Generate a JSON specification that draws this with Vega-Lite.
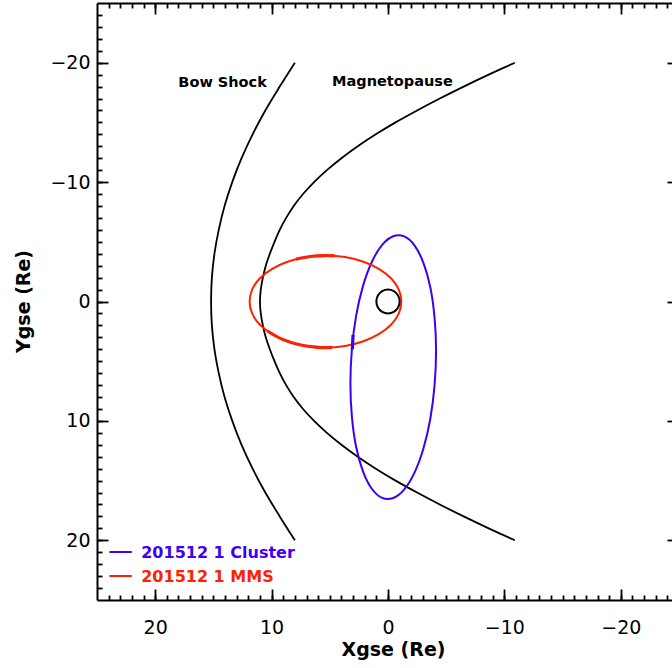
{
  "$schema": "https://vega.github.io/schema/vega-lite/v6.json",
  "width": 575,
  "height": 597,
  "autosize": {"type": "none"},
  "padding": {"left": 97, "top": 3, "right": 0, "bottom": 68},
  "background": "white",
  "config": {
    "view": {"stroke": null},
    "axis": {
      "grid": false,
      "domainColor": "black",
      "tickColor": "black",
      "labelColor": "black",
      "titleColor": "black",
      "domainWidth": 2,
      "tickWidth": 1.8,
      "labelFont": "DejaVu Sans",
      "labelFontSize": 19,
      "titleFont": "DejaVu Sans",
      "titleFontSize": 19,
      "titleFontWeight": "bold",
      "labelFlush": false,
      "labelOverlap": false
    }
  },
  "datasets": {
    "bow": [
      {"i": 0, "x": 8.0, "y": -20}, {"i": 1, "x": 9.3, "y": -18}, {"i": 2, "x": 10.54, "y": -16},
      {"i": 3, "x": 11.63, "y": -14}, {"i": 4, "x": 12.58, "y": -12}, {"i": 5, "x": 13.38, "y": -10},
      {"i": 6, "x": 14.04, "y": -8}, {"i": 7, "x": 14.54, "y": -6}, {"i": 8, "x": 14.91, "y": -4},
      {"i": 9, "x": 15.13, "y": -2}, {"i": 10, "x": 15.2, "y": 0}, {"i": 11, "x": 15.13, "y": 2},
      {"i": 12, "x": 14.91, "y": 4}, {"i": 13, "x": 14.54, "y": 6}, {"i": 14, "x": 14.04, "y": 8},
      {"i": 15, "x": 13.38, "y": 10}, {"i": 16, "x": 12.58, "y": 12}, {"i": 17, "x": 11.63, "y": 14},
      {"i": 18, "x": 10.54, "y": 16}, {"i": 19, "x": 9.3, "y": 18}, {"i": 20, "x": 8.0, "y": 20}
    ],
    "mp": [
      {"i": 0, "x": -10.9, "y": -20}, {"i": 1, "x": -8.65, "y": -19}, {"i": 2, "x": -6.5, "y": -18},
      {"i": 3, "x": -4.45, "y": -17}, {"i": 4, "x": -2.5, "y": -16}, {"i": 5, "x": -0.65, "y": -15},
      {"i": 6, "x": 1.05, "y": -14}, {"i": 7, "x": 2.6, "y": -13}, {"i": 8, "x": 4.0, "y": -12},
      {"i": 9, "x": 5.25, "y": -11}, {"i": 10, "x": 6.35, "y": -10}, {"i": 11, "x": 7.3, "y": -9},
      {"i": 12, "x": 8.1, "y": -8}, {"i": 13, "x": 8.75, "y": -7}, {"i": 14, "x": 9.3, "y": -6},
      {"i": 15, "x": 9.75, "y": -5}, {"i": 16, "x": 10.15, "y": -4}, {"i": 17, "x": 10.5, "y": -3},
      {"i": 18, "x": 10.75, "y": -2}, {"i": 19, "x": 10.93, "y": -1}, {"i": 20, "x": 11.0, "y": 0},
      {"i": 21, "x": 10.93, "y": 1}, {"i": 22, "x": 10.75, "y": 2}, {"i": 23, "x": 10.5, "y": 3},
      {"i": 24, "x": 10.15, "y": 4}, {"i": 25, "x": 9.75, "y": 5}, {"i": 26, "x": 9.3, "y": 6},
      {"i": 27, "x": 8.75, "y": 7}, {"i": 28, "x": 8.1, "y": 8}, {"i": 29, "x": 7.3, "y": 9},
      {"i": 30, "x": 6.35, "y": 10}, {"i": 31, "x": 5.25, "y": 11}, {"i": 32, "x": 4.0, "y": 12},
      {"i": 33, "x": 2.6, "y": 13}, {"i": 34, "x": 1.05, "y": 14}, {"i": 35, "x": -0.65, "y": 15},
      {"i": 36, "x": -2.5, "y": 16}, {"i": 37, "x": -4.45, "y": 17}, {"i": 38, "x": -6.5, "y": 18},
      {"i": 39, "x": -8.65, "y": 19}, {"i": 40, "x": -10.9, "y": 20}
    ],
    "cluster": [
      {"i": 0, "x": -4.13, "y": 4.13}, {"i": 1, "x": -4.0, "y": 1.34}, {"i": 2, "x": -3.64, "y": -1.17},
      {"i": 3, "x": -3.05, "y": -3.22}, {"i": 4, "x": -2.29, "y": -4.68}, {"i": 5, "x": -1.4, "y": -5.45},
      {"i": 6, "x": -0.45, "y": -5.46}, {"i": 7, "x": 0.5, "y": -4.74}, {"i": 8, "x": 1.39, "y": -3.31},
      {"i": 9, "x": 2.15, "y": -1.29}, {"i": 10, "x": 2.74, "y": 1.2}, {"i": 11, "x": 3.1, "y": 3.98},
      {"i": 12, "x": 3.23, "y": 6.87}, {"i": 13, "x": 3.1, "y": 9.66}, {"i": 14, "x": 2.74, "y": 12.17},
      {"i": 15, "x": 2.15, "y": 14.22}, {"i": 16, "x": 1.39, "y": 15.68}, {"i": 17, "x": 0.5, "y": 16.45},
      {"i": 18, "x": -0.45, "y": 16.46}, {"i": 19, "x": -1.4, "y": 15.74}, {"i": 20, "x": -2.29, "y": 14.31},
      {"i": 21, "x": -3.05, "y": 12.29}, {"i": 22, "x": -3.64, "y": 9.8}, {"i": 23, "x": -4.0, "y": 7.02}
    ],
    "mms": [
      {"i": 0, "x": 11.89, "y": 0}, {"i": 1, "x": 11.67, "y": 1.0}, {"i": 2, "x": 11.02, "y": 1.93},
      {"i": 3, "x": 9.98, "y": 2.72}, {"i": 4, "x": 8.63, "y": 3.33}, {"i": 5, "x": 7.06, "y": 3.72},
      {"i": 6, "x": 5.37, "y": 3.85}, {"i": 7, "x": 3.68, "y": 3.72}, {"i": 8, "x": 2.11, "y": 3.33},
      {"i": 9, "x": 0.76, "y": 2.72}, {"i": 10, "x": -0.28, "y": 1.93}, {"i": 11, "x": -0.93, "y": 1.0},
      {"i": 12, "x": -1.15, "y": 0}, {"i": 13, "x": -0.93, "y": -1.0}, {"i": 14, "x": -0.28, "y": -1.93},
      {"i": 15, "x": 0.76, "y": -2.72}, {"i": 16, "x": 2.11, "y": -3.33}, {"i": 17, "x": 3.68, "y": -3.72},
      {"i": 18, "x": 5.37, "y": -3.85}, {"i": 19, "x": 7.06, "y": -3.72}, {"i": 20, "x": 8.63, "y": -3.33},
      {"i": 21, "x": 9.98, "y": -2.72}, {"i": 22, "x": 11.02, "y": -1.93}, {"i": 23, "x": 11.67, "y": -1.0}
    ],
    "mmsThick": [
      {"seg": "a", "i": 0, "x": 10.36, "y": 2.47}, {"seg": "a", "i": 1, "x": 9.11, "y": 3.15},
      {"seg": "a", "i": 2, "x": 7.6, "y": 3.62}, {"seg": "a", "i": 3, "x": 5.94, "y": 3.84},
      {"seg": "a", "i": 4, "x": 4.8, "y": 3.84},
      {"seg": "b", "i": 0, "x": 4.6, "y": -3.82}, {"seg": "b", "i": 1, "x": 5.37, "y": -3.85},
      {"seg": "b", "i": 2, "x": 6.5, "y": -3.79}, {"seg": "b", "i": 3, "x": 7.9, "y": -3.55}
    ],
    "clusterThick": [
      {"i": 0, "x": 3.0, "y": 2.8}, {"i": 1, "x": 3.06, "y": 4.0}
    ],
    "earth": [
      {"i": 0, "x": 1, "y": 0}, {"i": 1, "x": 0.866, "y": 0.5}, {"i": 2, "x": 0.5, "y": 0.866},
      {"i": 3, "x": 0, "y": 1}, {"i": 4, "x": -0.5, "y": 0.866}, {"i": 5, "x": -0.866, "y": 0.5},
      {"i": 6, "x": -1, "y": 0}, {"i": 7, "x": -0.866, "y": -0.5}, {"i": 8, "x": -0.5, "y": -0.866},
      {"i": 9, "x": 0, "y": -1}, {"i": 10, "x": 0.5, "y": -0.866}, {"i": 11, "x": 0.866, "y": -0.5}
    ],
    "labels": [
      {"x": 14.21, "y": -18.3, "text": "Bow Shock"},
      {"x": -0.38, "y": -18.35, "text": "Magnetopause"}
    ],
    "legend": [
      {"x1": 23.93, "x2": 22.01, "y": 20.98, "tx": 21.2, "ty": 21.1, "series": "Cluster", "label": "201512 1 Cluster"},
      {"x1": 23.93, "x2": 22.01, "y": 22.99, "tx": 21.2, "ty": 23.05, "series": "MMS", "label": "201512 1 MMS"}
    ]
  },
  "layer": [
    {
      "data": {"name": "bow"},
      "mark": {"type": "line", "color": "black", "strokeWidth": 1.8, "interpolate": "cardinal"},
      "encoding": {
        "x": {"field": "x", "type": "quantitative", "scale": {"domain": [-24.4, 25], "reverse": true, "nice": false, "zero": false},
          "axis": {"orient": "bottom", "values": [20, 10, 0, -10, -20], "ticks": false, "domain": true, "labelPadding": 18,
            "title": "Xgse (Re)", "titleX": 296, "titleY": 49, "titleBaseline": "middle", "titleAlign": "center", "titleAnchor": null}},
        "y": {"field": "y", "type": "quantitative", "scale": {"domain": [-25, 25], "reverse": true, "nice": false, "zero": false},
          "axis": {"orient": "left", "values": [-20, -10, 0, 10, 20], "ticks": false, "domain": true, "labelPadding": 7,
            "title": "Ygse (Re)", "titleX": -74, "titleY": 298, "titleBaseline": "middle", "titleAlign": "center", "titleAnchor": null, "titleAngle": -90}},
        "order": {"field": "i", "type": "quantitative"}
      }
    },
    {
      "data": {"name": "mp"},
      "mark": {"type": "line", "color": "black", "strokeWidth": 1.8, "interpolate": "cardinal"},
      "encoding": {
        "x": {"field": "x", "type": "quantitative",
          "axis": {"orient": "bottom", "values": [20, 10, 0, -10, -20], "tickSize": -11, "labels": false, "domain": false, "title": null}},
        "y": {"field": "y", "type": "quantitative",
          "axis": {"orient": "left", "values": [-20, -10, 0, 10, 20], "tickSize": -11, "labels": false, "domain": false, "title": null}},
        "order": {"field": "i", "type": "quantitative"}
      }
    },
    {
      "data": {"name": "cluster"},
      "mark": {"type": "line", "color": "#3c00f5", "strokeWidth": 2, "interpolate": "cardinal-closed"},
      "encoding": {
        "x": {"field": "x", "type": "quantitative",
          "axis": {"orient": "bottom", "values": [-24,-23,-22,-21,-20,-19,-18,-17,-16,-15,-14,-13,-12,-11,-10,-9,-8,-7,-6,-5,-4,-3,-2,-1,0,1,2,3,4,5,6,7,8,9,10,11,12,13,14,15,16,17,18,19,20,21,22,23,24], "tickSize": -5, "labels": false, "domain": false, "title": null}},
        "y": {"field": "y", "type": "quantitative",
          "axis": {"orient": "left", "values": [-24,-23,-22,-21,-20,-19,-18,-17,-16,-15,-14,-13,-12,-11,-10,-9,-8,-7,-6,-5,-4,-3,-2,-1,0,1,2,3,4,5,6,7,8,9,10,11,12,13,14,15,16,17,18,19,20,21,22,23,24], "tickSize": -5, "labels": false, "domain": false, "title": null}},
        "order": {"field": "i", "type": "quantitative"}
      }
    },
    {
      "data": {"name": "mms"},
      "mark": {"type": "line", "color": "#ff2200", "strokeWidth": 2, "interpolate": "cardinal-closed"},
      "encoding": {
        "x": {"field": "x", "type": "quantitative",
          "axis": {"orient": "top", "values": [20, 10, 0, -10, -20], "tickSize": -11, "labels": false, "domain": true, "title": null}},
        "y": {"field": "y", "type": "quantitative",
          "axis": {"orient": "right", "values": [-20, -10, 0, 10, 20], "tickSize": -5, "labels": false, "domain": false, "title": null}},
        "order": {"field": "i", "type": "quantitative"}
      }
    },
    {
      "data": {"name": "earth"},
      "mark": {"type": "line", "color": "black", "strokeWidth": 2, "interpolate": "cardinal-closed"},
      "encoding": {
        "x": {"field": "x", "type": "quantitative",
          "axis": {"orient": "top", "values": [-24,-23,-22,-21,-20,-19,-18,-17,-16,-15,-14,-13,-12,-11,-10,-9,-8,-7,-6,-5,-4,-3,-2,-1,0,1,2,3,4,5,6,7,8,9,10,11,12,13,14,15,16,17,18,19,20,21,22,23,24], "tickSize": -5, "labels": false, "domain": false, "title": null}},
        "y": {"field": "y", "type": "quantitative", "axis": null},
        "order": {"field": "i", "type": "quantitative"}
      }
    },
    {
      "data": {"name": "mmsThick"},
      "mark": {"type": "line", "color": "#ff2200", "strokeWidth": 3.2, "interpolate": "cardinal"},
      "encoding": {
        "x": {"field": "x", "type": "quantitative", "axis": null},
        "y": {"field": "y", "type": "quantitative", "axis": null},
        "detail": {"field": "seg"},
        "order": {"field": "i", "type": "quantitative"}
      }
    },
    {
      "data": {"name": "clusterThick"},
      "mark": {"type": "line", "color": "#3c00f5", "strokeWidth": 3.2},
      "encoding": {
        "x": {"field": "x", "type": "quantitative", "axis": null},
        "y": {"field": "y", "type": "quantitative", "axis": null},
        "order": {"field": "i", "type": "quantitative"}
      }
    },
    {
      "data": {"name": "labels"},
      "mark": {"type": "text", "font": "DejaVu Sans", "fontSize": 14.5, "fontWeight": "bold", "color": "black", "align": "center", "baseline": "middle"},
      "encoding": {
        "x": {"field": "x", "type": "quantitative", "axis": null},
        "y": {"field": "y", "type": "quantitative", "axis": null},
        "text": {"field": "text"}
      }
    },
    {
      "data": {"name": "legend"},
      "mark": {"type": "rule", "strokeWidth": 2},
      "encoding": {
        "x": {"field": "x1", "type": "quantitative", "axis": null},
        "x2": {"field": "x2"},
        "y": {"field": "y", "type": "quantitative", "axis": null},
        "color": {"field": "series", "type": "nominal", "scale": {"domain": ["Cluster", "MMS"], "range": ["#3c00f5", "#ff2200"]}, "legend": null}
      }
    },
    {
      "data": {"name": "legend"},
      "mark": {"type": "text", "font": "DejaVu Sans", "fontSize": 16, "fontWeight": "bold", "align": "left", "baseline": "middle"},
      "encoding": {
        "x": {"field": "tx", "type": "quantitative", "axis": null},
        "y": {"field": "ty", "type": "quantitative", "axis": null},
        "text": {"field": "label"},
        "color": {"field": "series", "type": "nominal", "legend": null}
      }
    }
  ],
  "resolve": {"axis": {"x": "independent", "y": "independent"}}
}
